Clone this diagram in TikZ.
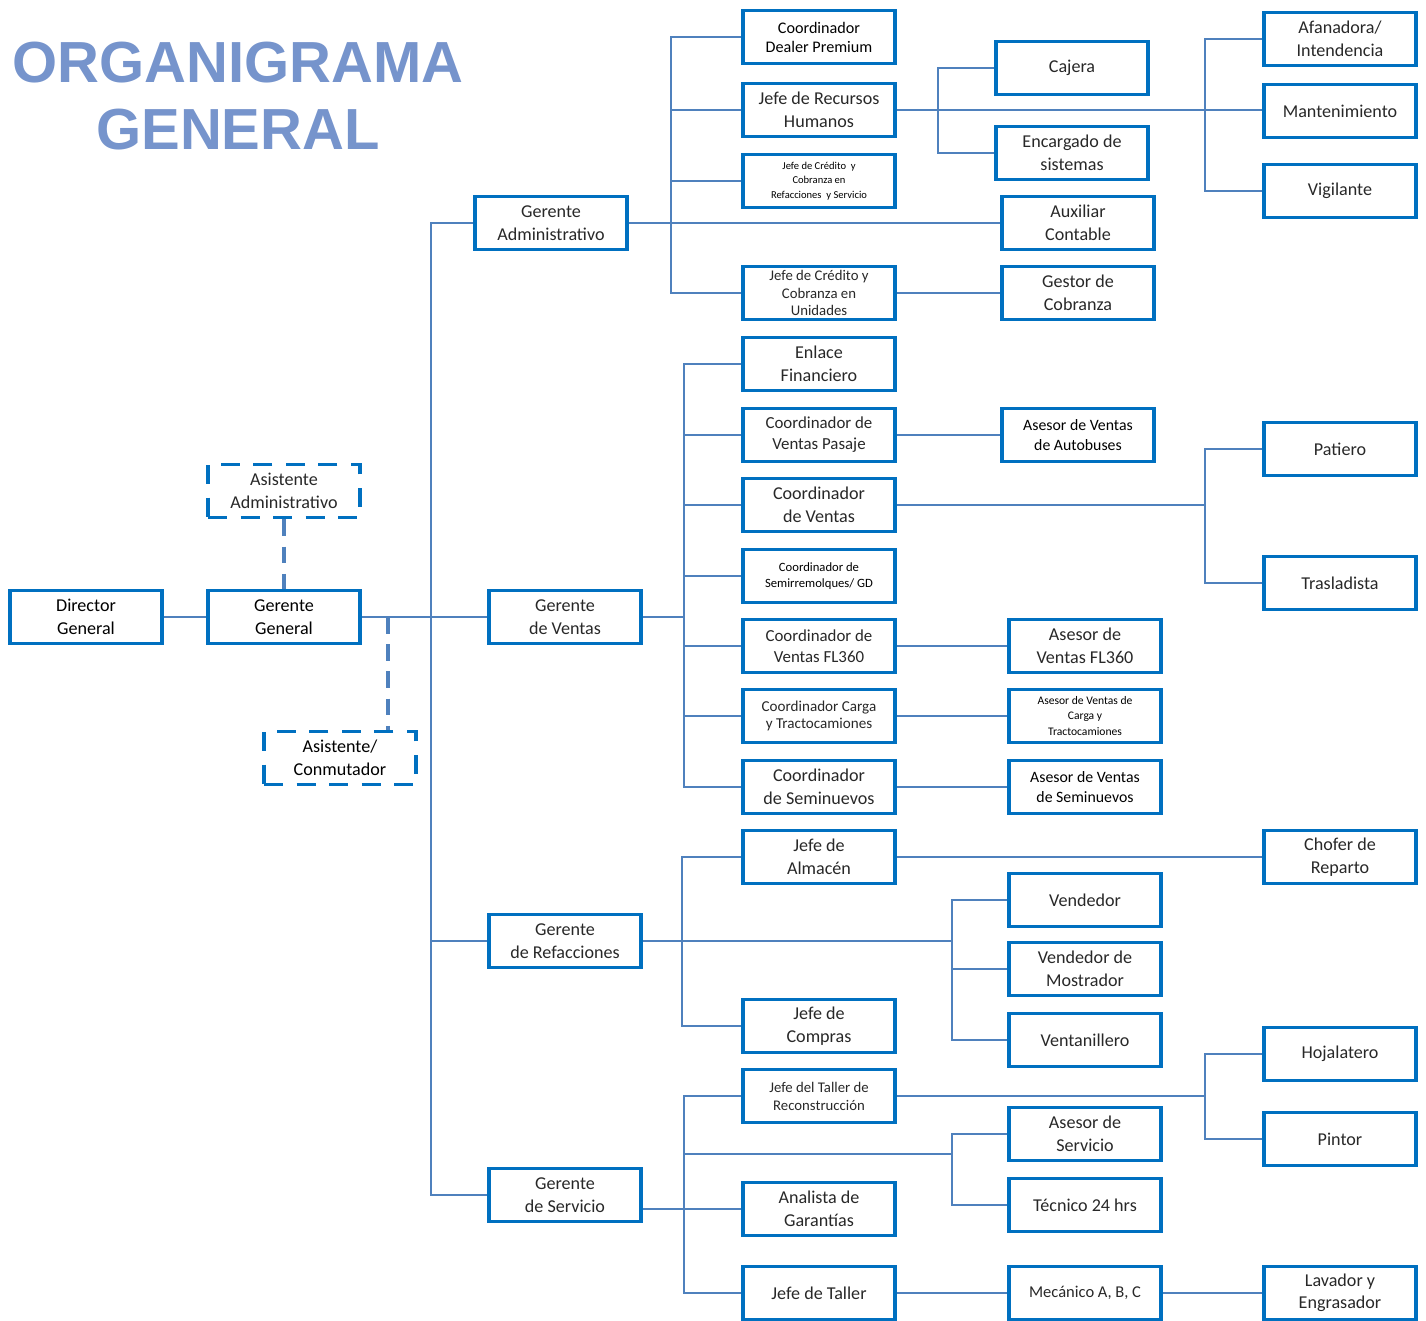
\documentclass[tikz,border=0pt]{standalone}
\usepackage{fontspec}
\setmainfont{Carlito}
\newfontfamily\titlefont{Liberation Sans}
\definecolor{boxblue}{RGB}{0,112,192}
\definecolor{lineblue}{RGB}{79,129,189}
\definecolor{titleblue}{RGB}{118,148,204}
\definecolor{txt}{RGB}{40,40,40}
\newcommand{\fs}[2]{\fontsize{#1}{#2}\selectfont}
\begin{document}
\begin{tikzpicture}[x=0.02cm,y=-0.02cm,
  org/.style={draw=boxblue, line width=2.2pt, minimum width=3.04cm, minimum height=1.06cm,
    align=center, inner sep=1pt, text=txt, font=\fs{10.3}{12.8}},
  asst/.style={org, dash pattern=on 11pt off 7.5pt},
  link/.style={draw=lineblue, line width=1.15pt},
  dlink/.style={draw=lineblue, line width=2.3pt, dash pattern=on 9.5pt off 6pt},
  ttl/.style={text=titleblue, font=\titlefont\bfseries\fs{33}{38}, inner sep=0pt}]
\useasboundingbox (0,0) rectangle (1426,1321);
\clip (0,0) rectangle (1426,1321);

% title
\node[ttl] (t1) at (238,63) {ORGANIGRAMA};
\node[ttl] (t2) at (238,130) {GENERAL};

% top of the chart
\node[org, text=black] (dg) at (86,617) {Director\\General};
\node[org, text=black] (gg) at (284,617) {Gerente\\General};
\node[asst] (aa) at (284,491) {Asistente\\Administrativo};
\node[asst, text=black] (ac) at (340,758) {Asistente/\\Conmutador};

% managers
\node[org] (gadm) at (551,223) {Gerente\\Administrativo};
\node[org] (gv) at (565,617) {Gerente\\de Ventas};
\node[org] (gref) at (565,941) {Gerente\\de Refacciones};
\node[org] (gserv) at (565,1195) {Gerente\\de Servicio};

% first level below the managers
\node[org, text=black, font=\fs{9.2}{10.8}] (cdp) at (819,37) {Coordinador\\Dealer Premium};
\node[org] (rh) at (819,110) {Jefe de Recursos\\Humanos};
\node[org, text=black, font=\fs{6}{8.4}] (jcr) at (819,181) {Jefe de Crédito \ y\\Cobranza en\\Refacciones \ y Servicio};
\node[org, font=\fs{8.4}{10.2}] (jcu) at (819,293) {Jefe de Crédito y\\Cobranza en\\Unidades};
\node[org] (enl) at (819,364) {Enlace\\Financiero};
\node[org, font=\fs{9.6}{12}] (cvp) at (819,435) {Coordinador de\\Ventas Pasaje};
\node[org] (cv) at (819,505) {Coordinador\\de Ventas};
\node[org, text=black, font=\fs{7.2}{9}] (csr) at (819,576) {Coordinador de\\Semirremolques/ GD};
\node[org, font=\fs{9.6}{12}] (cfl) at (819,646) {Coordinador de\\Ventas FL360};
\node[org, font=\fs{8.6}{10.2}] (cct) at (819,716) {Coordinador Carga\\y Tractocamiones};
\node[org] (csn) at (819,787) {Coordinador\\de Seminuevos};
\node[org] (jal) at (819,857) {Jefe de\\Almacén};
\node[org] (jco) at (819,1026) {Jefe de\\Compras};
\node[org, font=\fs{8.4}{10.2}] (jtr) at (819,1096) {Jefe del Taller de\\Reconstrucción};
\node[org] (ana) at (819,1209) {Analista de\\Garantías};
\node[org] (jta) at (819,1293) {Jefe de Taller};

% second level
\node[org] (caj) at (1072,68) {Cajera};
\node[org] (ens) at (1072,153) {Encargado de\\sistemas};
\node[org] (aux) at (1078,223) {Auxiliar\\Contable};
\node[org] (gco) at (1078,293) {Gestor de\\Cobranza};
\node[org, text=black, font=\fs{9}{11.2}] (aab) at (1078,435) {Asesor de Ventas\\de Autobuses};
\node[org] (afl) at (1085,646) {Asesor de\\Ventas FL360};
\node[org, text=black, font=\fs{6.6}{9}] (avc) at (1085,716) {Asesor de Ventas de\\Carga y\\Tractocamiones};
\node[org, text=black, font=\fs{9}{11.2}] (avs) at (1085,787) {Asesor de Ventas\\de Seminuevos};
\node[org] (ven) at (1085,900) {Vendedor};
\node[org] (vmo) at (1085,969) {Vendedor de\\Mostrador};
\node[org] (vta) at (1085,1040) {Ventanillero};
\node[org] (ase) at (1085,1134) {Asesor de\\Servicio};
\node[org] (tec) at (1085,1205) {Técnico 24 hrs};
\node[org, font=\fs{9.4}{11}] (mec) at (1085,1293) {Mecánico A, B, C};

% third level
\node[org] (afa) at (1340,39) {Afanadora/\\Intendencia};
\node[org] (man) at (1340,111) {Mantenimiento};
\node[org] (vig) at (1340,191) {Vigilante};
\node[org] (pat) at (1340,449) {Patiero};
\node[org] (tra) at (1340,583) {Trasladista};
\node[org] (cho) at (1340,857) {Chofer de\\Reparto};
\node[org] (hoj) at (1340,1054) {Hojalatero};
\node[org] (pin) at (1340,1139) {Pintor};
\node[org] (lav) at (1340,1293) {Lavador y\\Engrasador};

% bus positions
\coordinate (tk) at (431,617);
\coordinate (cjn) at (388,617);
\coordinate (ab) at (671,0);
\coordinate (vb) at (684,0);
\coordinate (fb) at (682,0);
\coordinate (cb) at (938,0);
\coordinate (sb) at (952,0);
\coordinate (rb) at (1205,0);
\coordinate (sj) at (684,1154);

% top connectors
\draw[link] (dg) -- (gg);
\draw[link] (gg) -- (gv);
\draw[dlink] (aa) -- (gg);
\draw[dlink] (cjn) -- (cjn |- ac.north);
\draw[link] (gadm.west) -| (tk |- gserv.west) -- (gserv.west);
\draw[link] (gref.west) -- (tk |- gref.west);

% administration
\draw[link] (cdp.west) -| (ab |- jcu.west) -- (jcu.west);
\draw[link] (rh.west) -- (ab |- rh.west);
\draw[link] (jcr.west) -- (ab |- jcr.west);
\draw[link] (gadm.east) -- (aux.west);
\draw[link] (jcu) -- (gco);
\draw[link] (rh.east) -- (rh.east -| man.west);
\draw[link] (caj.west) -| (cb |- ens.west) -- (ens.west);
\draw[link] (afa.west) -| (rb |- vig.west) -- (vig.west);

% sales
\draw[link] (enl.west) -| (vb |- csn.west) -- (csn.west);
\foreach \n in {cvp,cv,csr,cfl,cct}
  \draw[link] (\n.west) -- (vb |- \n.west);
\draw[link] (gv.east) -- (vb |- gv.east);
\draw[link] (cvp) -- (aab);
\draw[link] (cfl) -- (afl);
\draw[link] (cct) -- (avc);
\draw[link] (csn) -- (avs);
\draw[link] (cv.east) -- (cv.east -| rb);
\draw[link] (pat.west) -| (rb |- tra.west) -- (tra.west);

% parts
\draw[link] (jal.west) -| (fb |- jco.west) -- (jco.west);
\draw[link] (jal) -- (cho);
\draw[link] (gref.east) -- (sb |- gref.east);
\draw[link] (ven.west) -| (sb |- vta.west) -- (vta.west);
\draw[link] (vmo.west) -- (sb |- vmo.west);

% service
\draw[link] (jtr.west) -| (vb |- jta.west) -- (jta.west);
\draw[link] (ana.west) -- (ana.west -| gserv.east);
\draw[link] (sj) -- (sj -| sb);
\draw[link] (ase.west) -| (sb |- tec.west) -- (tec.west);
\draw[link] (jtr.east) -- (jtr.east -| rb);
\draw[link] (hoj.west) -| (rb |- pin.west) -- (pin.west);
\draw[link] (jta) -- (mec);
\draw[link] (mec) -- (lav);
\end{tikzpicture}
\end{document}
